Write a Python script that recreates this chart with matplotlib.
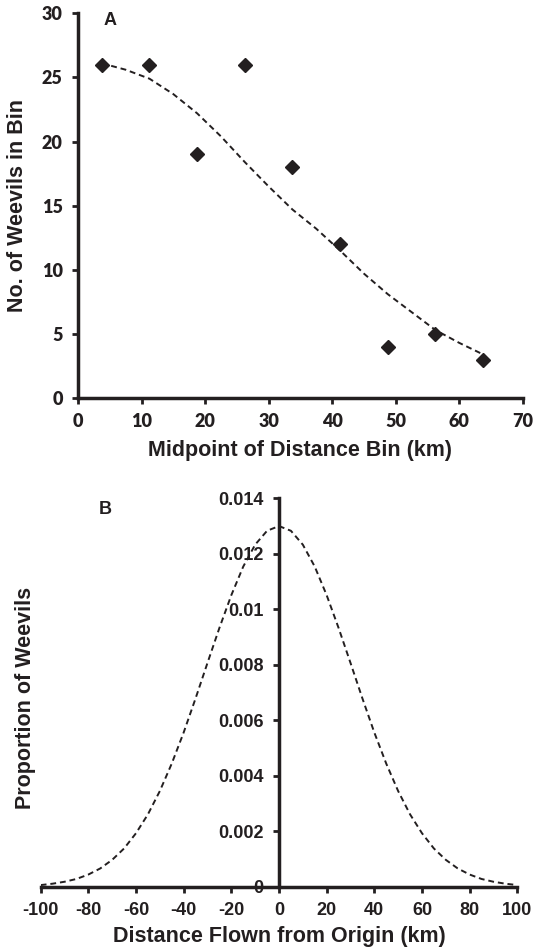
import numpy as np
import matplotlib
matplotlib.use('Agg')
import matplotlib.pyplot as plt

# 패널 A 데이터: 거리 구간 중앙값과 구간별 개체 수
bin_mid = [3.75, 11.25, 18.75, 26.25, 33.75, 41.25, 48.75, 56.25, 63.75]
weevil_count = [26, 26, 19, 26, 18, 12, 4, 5, 3]

# 패널 A 추세선
trend_x = [3.75, 7.5, 11.25, 15, 18.75, 22.5, 26.25, 30, 33.75, 37.5,
           41.25, 45, 48.75, 52.5, 56.25, 60, 63.75]
trend_y = [26.1, 25.6, 24.9, 23.7, 22.2, 20.4, 18.4, 16.5, 14.7, 13.2,
           11.5, 9.7, 8.1, 6.7, 5.3, 4.3, 3.4]

# 패널 B 분포 곡선
dist_x = [-100, -95, -90, -85, -80, -75, -70, -65, -60, -55, -50, -45, -40, -35,
          -30, -25, -20, -15, -10, -5, 0, 5, 10, 15, 20, 25, 30, 35, 40, 45,
          50, 55, 60, 65, 70, 75, 80, 85, 90, 95, 100]
dist_y = [0.00006, 0.00011, 0.00018, 0.00028, 0.00044, 0.00066, 0.00097,
          0.00138, 0.00193, 0.00261, 0.00345, 0.00444, 0.00556, 0.00679,
          0.00807, 0.00933, 0.01051, 0.01154, 0.01233, 0.01283, 0.01300,
          0.01283, 0.01233, 0.01154, 0.01051, 0.00933, 0.00807, 0.00679,
          0.00556, 0.00444, 0.00345, 0.00261, 0.00193, 0.00138, 0.00097,
          0.00066, 0.00044, 0.00028, 0.00018, 0.00011, 0.00006]

a_xticks = [0, 10, 20, 30, 40, 50, 60, 70]
a_yticks = [0, 5, 10, 15, 20, 25, 30]
b_xticks = [-100, -80, -60, -40, -20, 0, 20, 40, 60, 80, 100]
b_yticks = [0, 0.002, 0.004, 0.006, 0.008, 0.01, 0.012, 0.014]
b_ylabels = ['0', '0.002', '0.004', '0.006', '0.008', '0.01', '0.012', '0.014']

ink = '#231f20'
plt.rcParams['font.family'] = ['Liberation Sans', 'DejaVu Sans']
plt.rcParams['font.weight'] = 'bold'
plt.rcParams['axes.unicode_minus'] = False

fig = plt.figure(figsize=(5.34, 9.49), dpi=100)

# ---- 패널 A ----
ax1 = fig.add_axes([0.146, 0.5806, 0.833, 0.4054])
ax1.plot(trend_x, trend_y, color=ink, lw=1.4, linestyle=(0, (3, 2)), zorder=2)
ax1.plot(bin_mid, weevil_count, linestyle='none', marker='D', markersize=7,
         color=ink, zorder=3)
ax1.set_xlim(0, 70)
ax1.set_ylim(0, 30)
ax1.set_xticks(a_xticks)
ax1.set_yticks(a_yticks)
for s in ['top', 'right']:
    ax1.spines[s].set_visible(False)
for s in ['left', 'bottom']:
    ax1.spines[s].set_linewidth(2.5)
    ax1.spines[s].set_color(ink)
ax1.tick_params(direction='out', length=4, width=2, color=ink, pad=7,
                labelsize=13, labelcolor=ink)
for lab in ax1.get_xticklabels() + ax1.get_yticklabels():
    lab.set_family(['Lato', 'DejaVu Sans'])
    lab.set_fontweight('heavy')
ax1.set_xlabel('Midpoint of Distance Bin (km)', fontsize=15.5, fontweight='bold',
               color=ink, labelpad=7)
ax1.set_ylabel('No. of Weevils in Bin', fontsize=15.5, fontweight='bold',
               color=ink, labelpad=10)
ax1.text(0.072, 1.004, 'A', transform=ax1.transAxes, fontsize=13,
         fontweight='bold', color=ink, va='top', ha='center')

# ---- 패널 B ----
ax2 = fig.add_axes([0.0762, 0.0656, 0.8925, 0.4093])
ax2.plot(dist_x, dist_y, color=ink, lw=1.4, linestyle=(0, (3, 2)), zorder=3)
ax2.set_xlim(-100, 100)
ax2.set_ylim(0, 0.014)
ax2.set_xticks(b_xticks)
ax2.set_yticks(b_yticks)
ax2.set_yticklabels(b_ylabels)
for s in ['top', 'right']:
    ax2.spines[s].set_visible(False)
ax2.spines['left'].set_position(('data', 0))
for s in ['left', 'bottom']:
    ax2.spines[s].set_linewidth(2.5)
    ax2.spines[s].set_color(ink)
ax2.tick_params(direction='out', length=4, width=2, color=ink, pad=7,
                labelsize=13, labelcolor=ink)
ax2.set_xlabel('Distance Flown from Origin (km)', fontsize=15.5,
               fontweight='bold', color=ink, labelpad=5)
ax2.text(-0.031, 0.485, 'Proportion of Weevils', transform=ax2.transAxes,
         rotation=90, fontsize=15.5, fontweight='bold', color=ink,
         ha='center', va='center')
ax2.text(0.135, 0.994, 'B', transform=ax2.transAxes, fontsize=13,
         fontweight='bold', color=ink, va='top', ha='center')

fig.savefig('out.png', dpi=100)
